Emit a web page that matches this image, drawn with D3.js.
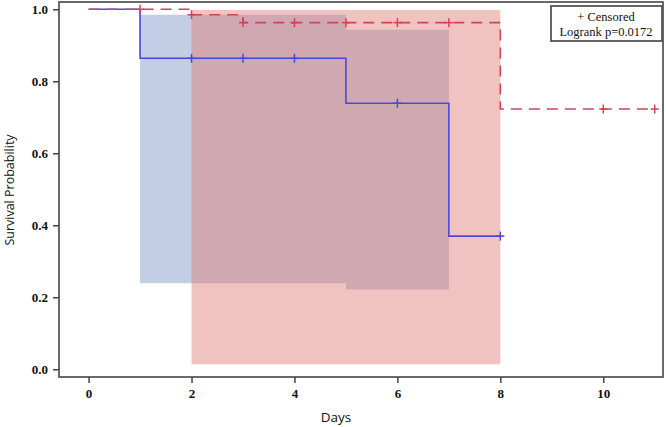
<!DOCTYPE html>
<html><head><meta charset="utf-8">
<script src="https://cdn.jsdelivr.net/npm/d3@7"></script>
<style>body{margin:0;background:#fff}svg{display:block}</style>
</head><body>
<script>
// ---- data ----
const xTicks = [0, 2, 4, 6, 8, 10];
const yTicks = [0.0, 0.2, 0.4, 0.6, 0.8, 1.0];

// Group 1 (blue, solid)
const blueStepDays = [0, 1, 5, 7];
const blueStepSurv = [1.0, 0.864, 0.739, 0.37];
const blueEndDay = 8;
const blueCensorDays = [2, 3, 4, 6, 8];
const blueBandDays = [1, 5, 7];
const blueBandLower = [0.239, 0.222];
const blueBandUpper = [0.985, 0.943];

// Group 2 (red, dashed)
const redStepDays = [0, 2, 3, 8];
const redStepSurv = [1.0, 0.985, 0.963, 0.723];
const redEndDay = 11;
const redCensorDays = [1, 2, 3, 4, 5, 6, 7, 10, 11];
const redBandDays = [2, 8];
const redBandLower = [0.014];
const redBandUpper = [0.998];

const legendLines = ["+ Censored", "Logrank p=0.0172"];

// ---- layout ----
const W = 666, H = 427;
const m = {left: 59, right: 2, top: 2, bottom: 50};
const svg = d3.select("body").append("svg").attr("width", W).attr("height", H);

const x = d3.scaleLinear().domain([-0.575, 11.18]).range([m.left, W - m.right]);
const y = d3.scaleLinear().domain([-0.0214, 1.0203]).range([H - m.bottom, m.top]);

function stepPoints(days, surv, end) {
  const pts = days.map((d, i) => [d, surv[i]]);
  pts.push([end, surv[surv.length - 1]]);
  return pts;
}
function survAt(days, surv, t) {
  let v = surv[0];
  days.forEach((d, i) => { if (t >= d) v = surv[i]; });
  return v;
}
function bandPoints(days, lo, hi) {
  const pts = lo.map((l, i) => ({d: days[i], lo: l, hi: hi[i]}));
  pts.push({d: days[days.length - 1], lo: lo[lo.length - 1], hi: hi[hi.length - 1]});
  return pts;
}

const area = d3.area().curve(d3.curveStepAfter)
  .x(p => x(p.d)).y0(p => y(p.lo)).y1(p => y(p.hi));

// bands
svg.append("path").datum(bandPoints(blueBandDays, blueBandLower, blueBandUpper))
  .attr("d", area).attr("fill", "#c3cee6");
svg.append("path").datum(bandPoints(redBandDays, redBandLower, redBandUpper))
  .attr("d", area).attr("fill", "rgb(222,122,115)").attr("fill-opacity", 0.45);

const line = d3.line().curve(d3.curveStepAfter).x(p => x(p[0])).y(p => y(p[1]));

// blue curve
svg.append("path").datum(stepPoints(blueStepDays, blueStepSurv, blueEndDay))
  .attr("d", line).attr("fill", "none").attr("stroke", "#4848dc").attr("stroke-width", 1.6);
// red curve
svg.append("path").datum(stepPoints(redStepDays, redStepSurv, redEndDay))
  .attr("d", line).attr("fill", "none").attr("stroke", "#d04458").attr("stroke-width", 1.6)
  .attr("stroke-dasharray", "11,7");

function censors(days, stepD, stepS, color) {
  const g = svg.append("g").attr("stroke", color).attr("stroke-width", 1.5);
  days.forEach(d => {
    const cx = x(d), cy = y(survAt(stepD, stepS, d));
    g.append("line").attr("x1", cx).attr("x2", cx).attr("y1", cy - 4.5).attr("y2", cy + 4.5);
    g.append("line").attr("x1", cx - 4).attr("x2", cx + 4).attr("y1", cy).attr("y2", cy);
  });
}
censors(blueCensorDays, blueStepDays, blueStepSurv, "#4848dc");
censors(redCensorDays, redStepDays, redStepSurv, "#d04458");

// frame
svg.append("rect").attr("x", m.left).attr("y", m.top)
  .attr("width", W - m.left - m.right - 1).attr("height", H - m.top - m.bottom)
  .attr("fill", "none").attr("stroke", "#5a5a5a").attr("stroke-width", 1.8);

// axes
const xAxis = svg.append("g").attr("transform", `translate(0,${H - m.bottom})`)
  .call(d3.axisBottom(x).tickValues(xTicks).tickSize(6).tickPadding(6).tickFormat(d3.format("d")));
const yAxis = svg.append("g").attr("transform", `translate(${m.left},0)`)
  .call(d3.axisLeft(y).tickValues(yTicks).tickSize(6).tickPadding(5).tickFormat(d3.format(".1f")));
[xAxis, yAxis].forEach(a => {
  a.select(".domain").remove();
  a.selectAll(".tick line").attr("stroke", "#444").attr("stroke-width", 1.5);
  a.selectAll(".tick text").attr("font-family", "Liberation Serif, serif")
    .attr("font-weight", "bold").attr("font-size", 13).attr("fill", "#111");
});

// titles
svg.append("text").attr("x", 336).attr("y", 422).attr("text-anchor", "middle")
  .attr("font-family", "Open Sans, Liberation Sans, sans-serif").attr("font-size", 13.5).attr("fill", "#111")
  .text("Days");
svg.append("text").attr("transform", "translate(14,190) rotate(-90)").attr("text-anchor", "middle")
  .attr("font-family", "Open Sans, Liberation Sans, sans-serif").attr("font-size", 12.5).attr("fill", "#111")
  .text("Survival Probability");

// legend
const lg = svg.append("g");
lg.append("rect").attr("x", 551).attr("y", 6).attr("width", 111).attr("height", 35)
  .attr("fill", "#fff").attr("stroke", "#555").attr("stroke-width", 1.8);
legendLines.forEach((t, i) => {
  lg.append("text").attr("x", 606).attr("y", 21 + i * 15).attr("text-anchor", "middle")
    .attr("font-family", "Liberation Serif, serif").attr("font-size", 12.5).attr("fill", "#111")
    .text(t);
});
</script>
</body></html>
